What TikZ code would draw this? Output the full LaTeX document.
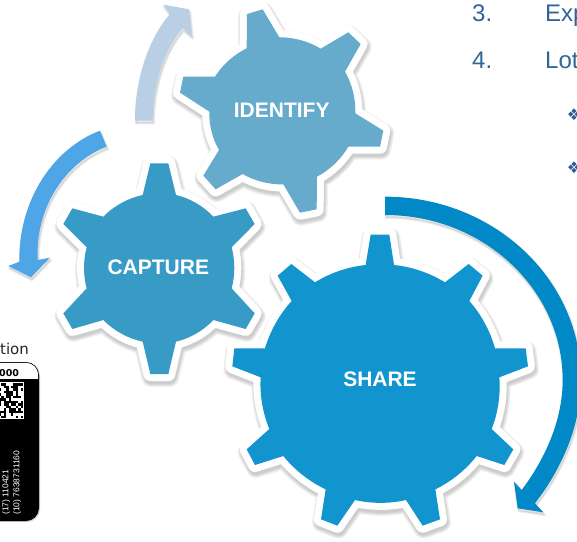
\documentclass[tikz,border=0pt]{standalone}
\usepackage{fontspec}
\setmainfont{Liberation Sans}
\newfontfamily\dejavu{DejaVu Sans}
\definecolor{gshare}{HTML}{1295CE}
\definecolor{gcapture}{HTML}{379BC6}
\definecolor{gidentify}{HTML}{66ABCC}
\definecolor{ashare}{HTML}{0089C6}
\definecolor{acapture}{HTML}{4FA6E6}
\definecolor{aidentify}{HTML}{B8CFE6}
\definecolor{bodytext}{HTML}{2F659B}
\definecolor{bullet}{HTML}{2F5A96}
\tikzset{
  geartext/.style={text=white,font=\fontsize{21}{21}\selectfont\bfseries,inner sep=0pt},
  listtext/.style={text=bodytext,font=\fontsize{24}{24}\selectfont,inner sep=0pt,anchor=base west},
  bulletmark/.style={text=bullet,font=\dejavu\fontsize{16}{16}\selectfont,inner sep=0pt},
  cardtext/.style={text=white,font=\fontsize{8.5}{8.5}\selectfont,inner sep=0pt,rotate=90,anchor=base west},
  softshadow/.style={line join=round,draw=black,draw opacity=.05,line width=#1},
  arc16/.style={bend left=#1,looseness=.85}
}
% #1,#2 = origin of the traced crop, #3 = colour, #4 = outline
\newcommand{\gearshape}[4]{%
  \begin{scope}[shift={(#1+1,#2+3)},x=.33333pt,y=-.33333pt]
    \foreach \w in {20,18,16,14}{\path[softshadow=\w pt] #4;}
  \end{scope}
  \begin{scope}[shift={(#1,#2)},x=.33333pt,y=-.33333pt]
    \path[draw=white,line width=14pt,line join=round] #4;
    \path[fill=#3] #4;
  \end{scope}}
\newcommand{\arrowshape}[4]{%
  \begin{scope}[shift={(#1+1,#2+2.5)},x=.33333pt,y=-.33333pt]
    \foreach \w in {3,1.5}{\path[line join=round,draw=black,draw opacity=.05,line width=\w pt,fill=black,fill opacity=.04] #4;}
  \end{scope}
  \begin{scope}[shift={(#1,#2)},x=.33333pt,y=-.33333pt]
    \path[fill=#3] #4;
  \end{scope}}
\begin{document}
\begin{tikzpicture}[x=1pt,y=-1pt]
\clip (0,0) rectangle (577,541);
\fill[white] (0,0) rectangle (577,541);

% label card at the lower left
\node[anchor=base west,inner sep=0pt,font=\dejavu\fontsize{15}{15}\selectfont,text=black!85] (cardtitle) at (0,354) {tion};
\fill[black!18,rounded corners=13pt] (-30,363) rectangle (40,522);
\fill[black,rounded corners=13pt] (-30,362) rectangle (39,521);
\begin{scope}
  \clip (-30,360) rectangle (45,378);
  \fill[white,rounded corners=12.2pt] (-30,362.8) rectangle (38.2,450);
\end{scope}
\node[anchor=base west,inner sep=0pt,font=\dejavu\fontsize{9.5}{9.5}\selectfont\bfseries,text=black] (cardnum) at (-1,376) {000};
\fill[white] (-2,382) rectangle (23.5,418.5);
\pgfmathsetseed{11}
\foreach \i in {0,...,9}{\foreach \j in {0,...,13}{%
  \pgfmathparse{rnd<0.5?1:0}
  \ifnum\pgfmathresult=1 \fill[black] (\i*2.4-1,\j*2.5+383) rectangle +(2.4,2.5);\fi}}
\node[cardtext] (cardlot) at (8.5,515) {(17) 110421};
\node[cardtext] (cardref) at (19.5,515) {(10) 7638731160};

% list fragment at the top right
\node[listtext] (n3) at (472,21) {3.};
\node[listtext] (t3) at (545,21) {Exp};
\node[listtext] (n4) at (472,68) {4.};
\node[listtext] (t4) at (545,68) {Lot};
\node[bulletmark] (b1) at (574,115) {❖};
\node[bulletmark] (b2) at (574,168) {❖};

% gears
\gearshape{170}{0}{gidentify}{(231,42) -- (278,28) -- (328,112) to[arc16=16] (452,146) -- (535,97) -- (572,132) -- (525,215) to[arc16=16] (556,340) -- (640,392) -- (630,440) -- (535,440) to[arc16=16] (441,530) -- (440,628) -- (390,638) -- (340,553) to[arc16=16] (218,522) -- (137,568) -- (100,527) -- (147,450) to[arc16=16] (118,335) -- (30,278) -- (40,230) -- (135,230) to[arc16=16] (230,145) -- cycle}
\gearshape{50}{150}{gcapture}{(301,40) -- (355,40) -- (378,135) to[arc16=17] (490,200) -- (587,175) -- (614,222) -- (545,292) to[arc16=15] (545,415) -- (614,490) -- (587,537) -- (490,510) to[arc16=17] (378,575) -- (355,672) -- (301,672) -- (278,575) to[arc16=17] (160,510) -- (67,537) -- (40,490) -- (110,415) to[arc16=15] (110,292) -- (40,222) -- (67,175) -- (160,200) to[arc16=17] (278,135) -- cycle}
\gearshape{220}{160}{gshare}{(452,224) -- (508,224) -- (522,315) to[arc16=13] (675,367) -- (746,312) -- (788,347) -- (748,423) to[arc16=13] (825,565) -- (917,565) -- (924,619) -- (838,652) to[arc16=13] (815,807) -- (880,868) -- (853,915) -- (770,888) to[arc16=13] (646,988) -- (660,1078) -- (608,1097) -- (558,1020) to[arc16=13] (405,1020) -- (352,1097) -- (303,1078) -- (317,988) to[arc16=13] (190,888) -- (105,915) -- (80,868) -- (148,807) to[arc16=13] (122,652) -- (37,619) -- (43,565) -- (135,565) to[arc16=13] (215,423) -- (173,347) -- (214,312) -- (285,367) to[arc16=13] (437,315) -- cycle}

% curved arrows
\arrowshape{0}{0}{aidentify}{(405,362) .. controls (405,230) and (450,110) .. (510,42) -- (490,14) -- (567,28) -- (575,107) -- (548,85) .. controls (495,145) and (458,250) .. (458,362) -- cycle}
\arrowshape{0}{0}{acapture}{(300,392) .. controls (160,445) and (55,600) .. (58,785) -- (25,798) -- (93,832) -- (150,773) -- (113,780) .. controls (105,620) and (200,485) .. (320,440) -- cycle}
\arrowshape{220}{160}{ashare}{(495,110) .. controls (820,110) and (1083,356) .. (1083,660) .. controls (1083,790) and (1030,920) .. (945,1030) -- (970,1057) -- (893,1045) -- (882,965) -- (905,990) .. controls (980,890) and (1028,775) .. (1028,660) .. controls (1028,387) and (789,165) .. (495,165) -- cycle}

% gear labels
\node[geartext] (identify) at (281.7,110.3) {IDENTIFY};
\node[geartext] (capture) at (158.3,267.3) {CAPTURE};
\node[geartext] (share) at (380,379.7) {SHARE};
\end{tikzpicture}
\end{document}
